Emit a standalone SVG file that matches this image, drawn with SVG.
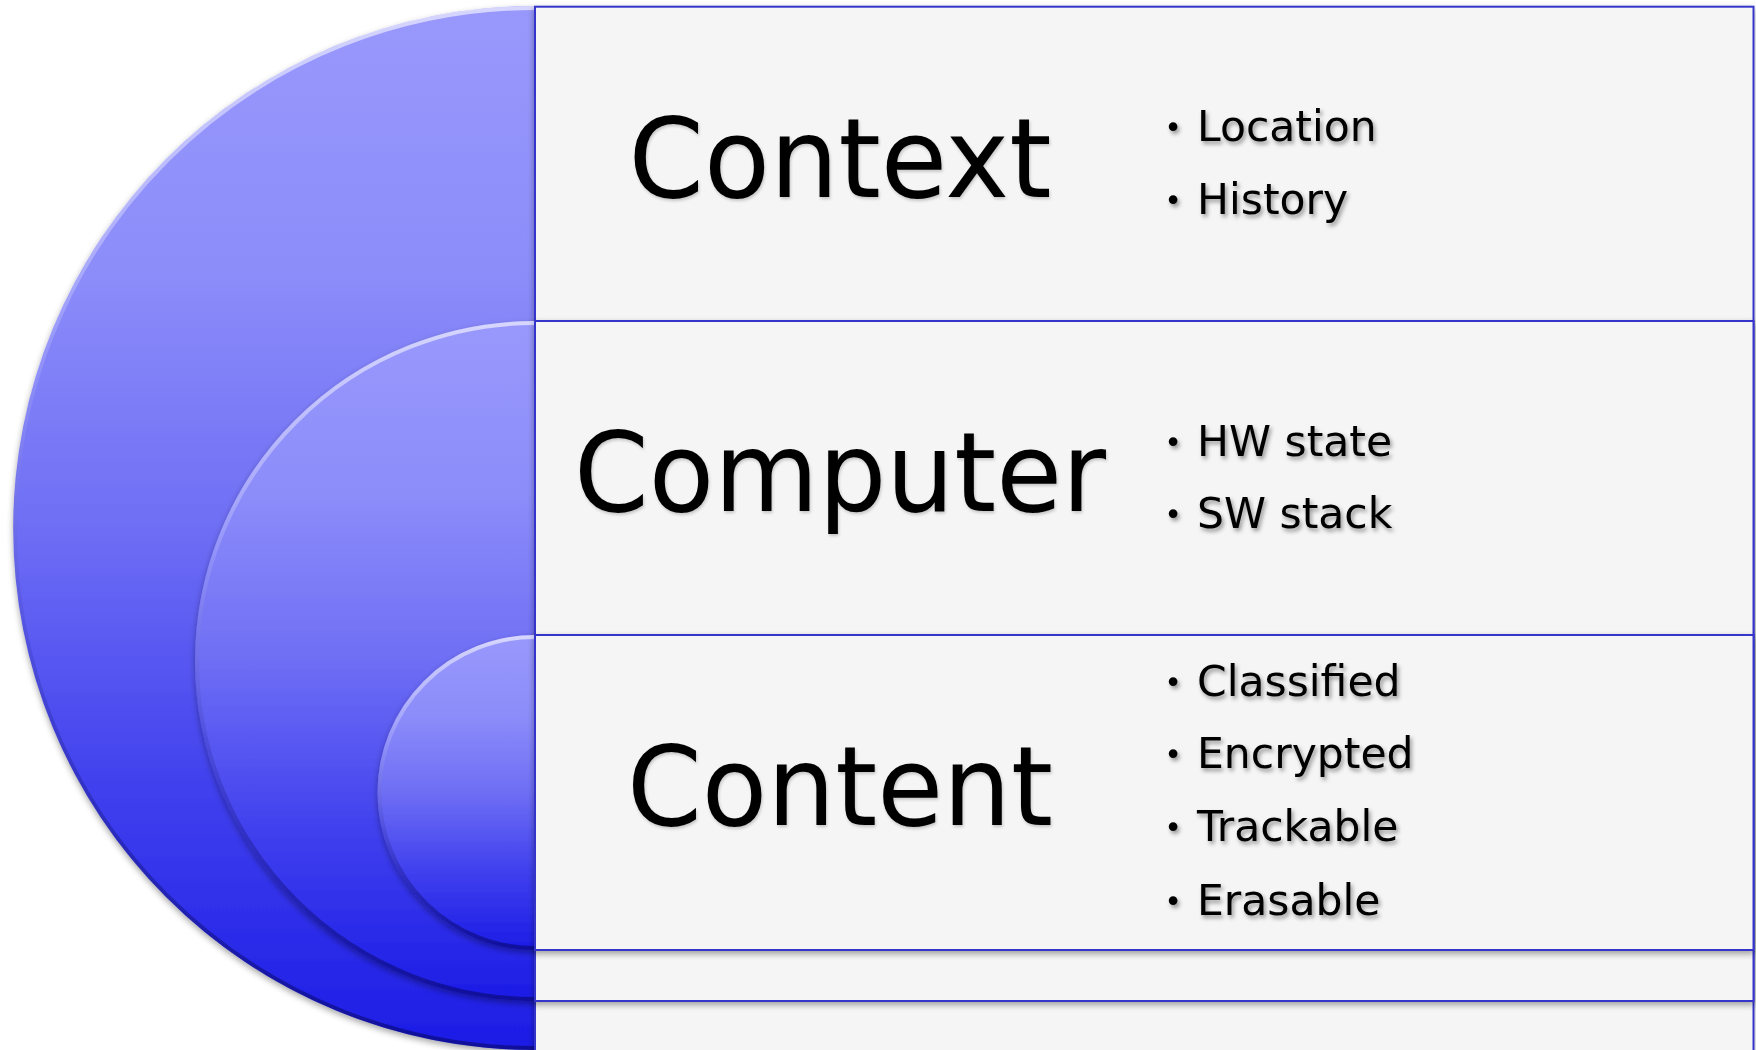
<svg xmlns="http://www.w3.org/2000/svg" width="1756" height="1050" viewBox="0 0 1756 1050">
<style>
.box{fill:#f5f5f5;stroke:#3636cc;stroke-width:2}
.ring{fill:url(#blue)}
.bevel{fill:none;stroke:url(#bev);stroke-width:4}
.title{font-family:"DejaVu Sans","Liberation Sans",sans-serif;font-size:110px;fill:#000;text-anchor:middle}
.item{font-family:"DejaVu Sans","Liberation Sans",sans-serif;font-size:42.5px;fill:#000}
.bul{font-size:30px;text-anchor:middle}
</style>
<defs>
<linearGradient id="blue" x1="0" y1="0" x2="0" y2="1">
<stop offset="0" stop-color="#9898fc"/>
<stop offset="0.25" stop-color="#8d8dfa"/>
<stop offset="0.5" stop-color="#6e6ef5"/>
<stop offset="0.75" stop-color="#4040ee"/>
<stop offset="1" stop-color="#1c1ce6"/>
</linearGradient>
<linearGradient id="bev" x1="0" y1="0" x2="0" y2="1">
<stop offset="0" stop-color="#ffffff" stop-opacity="0.6"/>
<stop offset="0.35" stop-color="#ffffff" stop-opacity="0.12"/>
<stop offset="0.6" stop-color="#000040" stop-opacity="0.1"/>
<stop offset="1" stop-color="#000040" stop-opacity="0.45"/>
</linearGradient>
<filter id="sh" x="-10%" y="-10%" width="120%" height="120%">
<feDropShadow dx="0" dy="3" stdDeviation="3" flood-color="#000" flood-opacity="0.35"/>
</filter>
<filter id="ts" x="-5%" y="-20%" width="110%" height="150%">
<feDropShadow dx="2" dy="3" stdDeviation="2" flood-color="#000" flood-opacity="0.4"/>
</filter>
<filter id="ts2" x="-5%" y="-20%" width="110%" height="150%">
<feDropShadow dx="1" dy="2" stdDeviation="1.5" flood-color="#000" flood-opacity="0.2"/>
</filter>
</defs>
<rect width="1756" height="1050" fill="#ffffff"/>

<g id="context">
<path class="ring" filter="url(#sh)" d="M535,6 A522,522 0 0 0 535,1050 Z"/>
<path class="bevel" d="M535,8 A520,520 0 0 0 535,1048"/>
<rect class="box" filter="url(#sh)" x="535" y="6.7" width="1218.5" height="1045"/>
<text class="title" x="840" y="197" textLength="423" lengthAdjust="spacingAndGlyphs" filter="url(#ts2)">Context</text>
<g class="item" filter="url(#ts)">
<text y="141"><tspan class="bul" x="1173" dy="-3">•</tspan><tspan x="1197" dy="3">Location</tspan></text>
<text y="214"><tspan class="bul" x="1173" dy="-3">•</tspan><tspan x="1197" dy="3">History</tspan></text>
</g>
</g>

<g id="computer">
<path class="ring" filter="url(#sh)" d="M535,321 A340,340 0 0 0 535,1001 Z"/>
<path class="bevel" d="M535,323 A338,338 0 0 0 535,999"/>
<rect class="box" filter="url(#sh)" x="535" y="321" width="1218.5" height="680"/>
<text class="title" x="840" y="511" textLength="532" lengthAdjust="spacingAndGlyphs" filter="url(#ts2)">Computer</text>
<g class="item" filter="url(#ts)">
<text y="456"><tspan class="bul" x="1173" dy="-3">•</tspan><tspan x="1197" dy="3">HW state</tspan></text>
<text y="528"><tspan class="bul" x="1173" dy="-3">•</tspan><tspan x="1197" dy="3">SW stack</tspan></text>
</g>
</g>

<g id="content">
<path class="ring" filter="url(#sh)" d="M535,635 A157.5,157.5 0 0 0 535,950 Z"/>
<path class="bevel" d="M535,637 A155.5,155.5 0 0 0 535,948"/>
<rect class="box" filter="url(#sh)" x="535" y="635" width="1218.5" height="315"/>
<text class="title" x="840" y="825" textLength="426" lengthAdjust="spacingAndGlyphs" filter="url(#ts2)">Content</text>
<g class="item" filter="url(#ts)">
<text y="696"><tspan class="bul" x="1173" dy="-3">•</tspan><tspan x="1197" dy="3">Classified</tspan></text>
<text y="768"><tspan class="bul" x="1173" dy="-3">•</tspan><tspan x="1197" dy="3">Encrypted</tspan></text>
<text y="841"><tspan class="bul" x="1173" dy="-3">•</tspan><tspan x="1197" dy="3">Trackable</tspan></text>
<text y="915"><tspan class="bul" x="1173" dy="-3">•</tspan><tspan x="1197" dy="3">Erasable</tspan></text>
</g>
</g>

<g id="connectors"></g>
</svg>
